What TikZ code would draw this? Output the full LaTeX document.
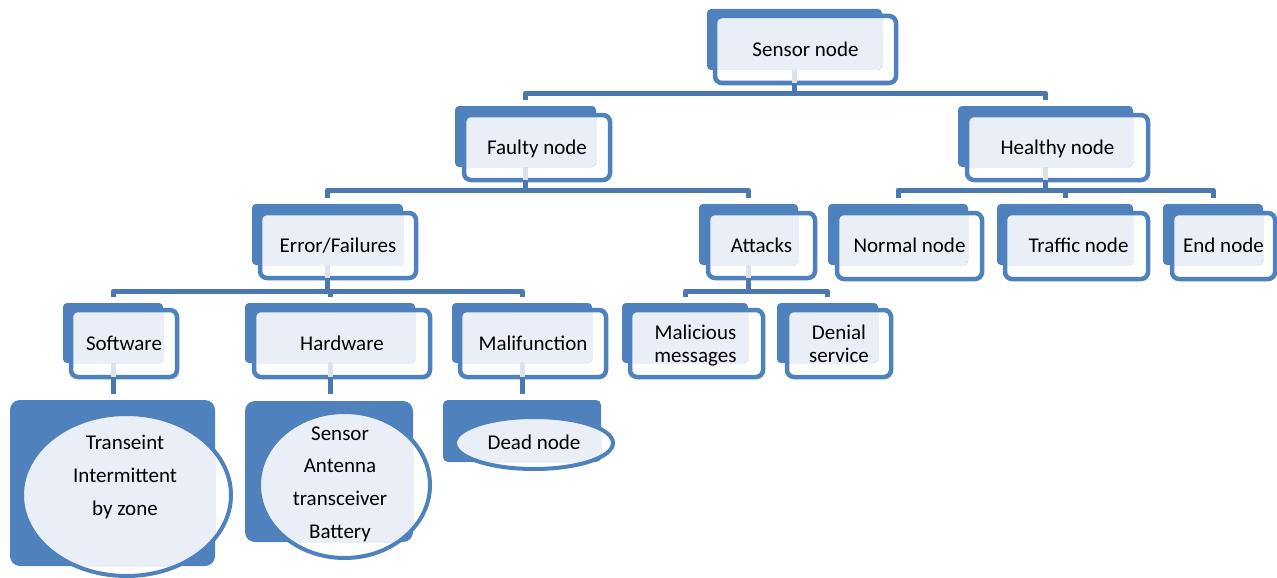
\documentclass[tikz,border=0pt]{standalone}
\usepackage{fontspec}
\setmainfont{Carlito}
\usetikzlibrary{fit,calc,shapes.geometric}
\definecolor{boxblue}{HTML}{4F81BD}
\definecolor{linkblue}{HTML}{4A78AF}
\definecolor{paleblue}{HTML}{EAEFF7}
\definecolor{stubgrey}{HTML}{DCE2EC}
\tikzset{
  backbox/.style={fill=boxblue, rounded corners=4pt, inner sep=0pt, outer sep=0pt},
  backpanel/.style={fill=boxblue, rounded corners=10pt, inner sep=0pt, outer sep=0pt},
  frontbox/.style={draw=boxblue, line width=4.5pt, rounded corners=7pt, inner sep=0pt, outer sep=0pt},
  boxtext/.style={inner sep=0pt, font=\fontsize{21}{23}\selectfont, text height=13.6pt, text depth=0pt},
  twoline/.style={text height={}, text depth={}, align=center},
  frontell/.style={ellipse, draw=boxblue, line width=4pt, inner sep=0pt, outer sep=0pt,
    font=\fontsize{21}{23}\selectfont, text height=13.6pt, text depth=0pt},
  celltext/.style={align=center, inner sep=0pt, font=\fontsize{21}{32.6}\selectfont},
  conn/.style={draw=linkblue, line width=5pt, line join=round},
  stubc/.style={draw=stubgrey, line width=5pt},
}
% a tier box: blue back plate, outlined front frame, pale where they overlap, label on top
\newcommand\tierbox[5][]{%
  \node[backbox, fit={#3}] (#2B) {};
  \node[frontbox, fit={#4},
    path picture={\fill[paleblue, rounded corners=4pt] (#2B.north west) rectangle (#2B.south east);}]
    (#2) {};
  \node[boxtext, #1] (#2T) at (#2.center) {#5};
}
\begin{document}
\begin{tikzpicture}[x=1pt, y=-1pt]
\useasboundingbox (0,0) rectangle (1277,578);
\fill[white] (0,0) rectangle (1277,578);

% bar levels
\coordinate (bar1) at (0,93);
\coordinate (bar2) at (0,190);
\coordinate (bar3) at (0,291);
\coordinate (bar4) at (0,394);

% level 0
\tierbox{sensor}{(707,9) (882,70)}{(715,16) (896,83)}{Sensor node}
% level 1
\tierbox{faulty}{(455,106) (596,167)}{(464,115) (610,180)}{Faulty node}
\tierbox{healthy}{(958,106) (1133,167)}{(967,115) (1148,180)}{Healthy node}
% level 2
\tierbox{err}{(252,204) (403,265)}{(260,213) (416,278)}{Error/Failures}
\tierbox{att}{(699,204) (798,265)}{(708,213) (815,278)}{Attacks}
\tierbox{norm}{(828,204) (968,265)}{(837,213) (982,279)}{Normal node}
\tierbox[xshift=2pt]{traf}{(997,204) (1133,265)}{(1005,213) (1148,279)}{Traffic node}
\tierbox{endn}{(1163,204) (1263,265)}{(1172,213) (1275,279)}{End node}
% level 3
\tierbox{sw}{(63,303) (163,363)}{(71,310) (177,377)}{Software}
\tierbox{hw}{(245,303) (415,363)}{(254,310) (430,377)}{Hardware}
\tierbox{mal}{(452,303) (592,363)}{(460,310) (606,377)}{Malifunction}
\tierbox[twoline, xshift=-1pt, yshift=-2pt]{malic}{(622,303) (748,363)}{(630,310) (763,377)}{Malicious\\messages}
\tierbox[twoline]{den}{(777,303) (878,363)}{(787,310) (891,377)}{Denial\\service}

% level 4: plates with ellipses
\node[backpanel, fit={(10,400) (215,566)}] (swPB) {};
\node[frontell, minimum width=209pt, minimum height=162pt,
  path picture={\fill[paleblue, rounded corners=10pt] (swPB.north west) rectangle (swPB.south east);}]
  (swP) at (126.5,495) {};
\node[celltext] (swPT) at (125,477) {Transeint\\Intermittent\\by zone};

\node[backpanel, fit={(245,401) (413,542)}] (hwPB) {};
\node[frontell, minimum width=171pt, minimum height=146pt,
  path picture={\fill[paleblue, rounded corners=10pt] (hwPB.north west) rectangle (hwPB.south east);}]
  (hwP) at (344.5,485) {};
\node[celltext] (hwPT) at (340,484) {Sensor\\Antenna\\transceiver\\Battery};

\node[backpanel, rounded corners=5pt, fit={(443,400) (601,462)}] (deadB) {};
\node[frontell, minimum width=158pt, minimum height=52pt,
  path picture={\fill[paleblue, rounded corners=5pt] (deadB.north west) rectangle (deadB.south east);}]
  (dead) at (534,443) {Dead node};

% short pale stubs inside the front frames
\foreach \n in {sensor,faulty,healthy,err,att,sw,hw,mal}
  \draw[stubc] (\n B.south) -- (\n B.south |- \n.south);

% connectors
\draw[conn] (sensorB.south |- sensor.south) -- (sensorB.south |- bar1);
\draw[conn] ($(faultyB.north)+(0,-6)$) |- (bar1 -| healthyB.north) -- ($(healthyB.north)+(0,-6)$);

\draw[conn] (faultyB.south |- faulty.south) -- (faultyB.south |- bar2);
\draw[conn] ($(errB.north)+(0,-6)$) |- (bar2 -| attB.north) -- ($(attB.north)+(0,-6)$);

\draw[conn] (healthyB.south |- healthy.south) -- (healthyB.south |- bar2);
\draw[conn] ($(normB.north)+(0,-6)$) |- (bar2 -| endnB.north) -- ($(endnB.north)+(0,-6)$);
\draw[conn] ($(trafB.north)+(0,-6)$) -- (trafB.north |- bar2);

\draw[conn] (errB.south |- err.south) -- (errB.south |- bar3);
\draw[conn] ($(swB.north)+(0,-6)$) |- (bar3 -| malB.north) -- ($(malB.north)+(0,-6)$);
\draw[conn] ($(hwB.north)+(0,-6)$) -- (hwB.north |- bar3);

\draw[conn] (attB.south |- att.south) -- (attB.south |- bar3);
\draw[conn] ($(malicB.north)+(0,-6)$) |- (bar3 -| denB.north) -- ($(denB.north)+(0,-6)$);

\draw[conn] (swB.south |- sw.south) -- (swB.south |- bar4);
\draw[conn] (hwB.south |- hw.south) -- (hwB.south |- bar4);
\draw[conn] (malB.south |- mal.south) -- (malB.south |- bar4);
\end{tikzpicture}
\end{document}
